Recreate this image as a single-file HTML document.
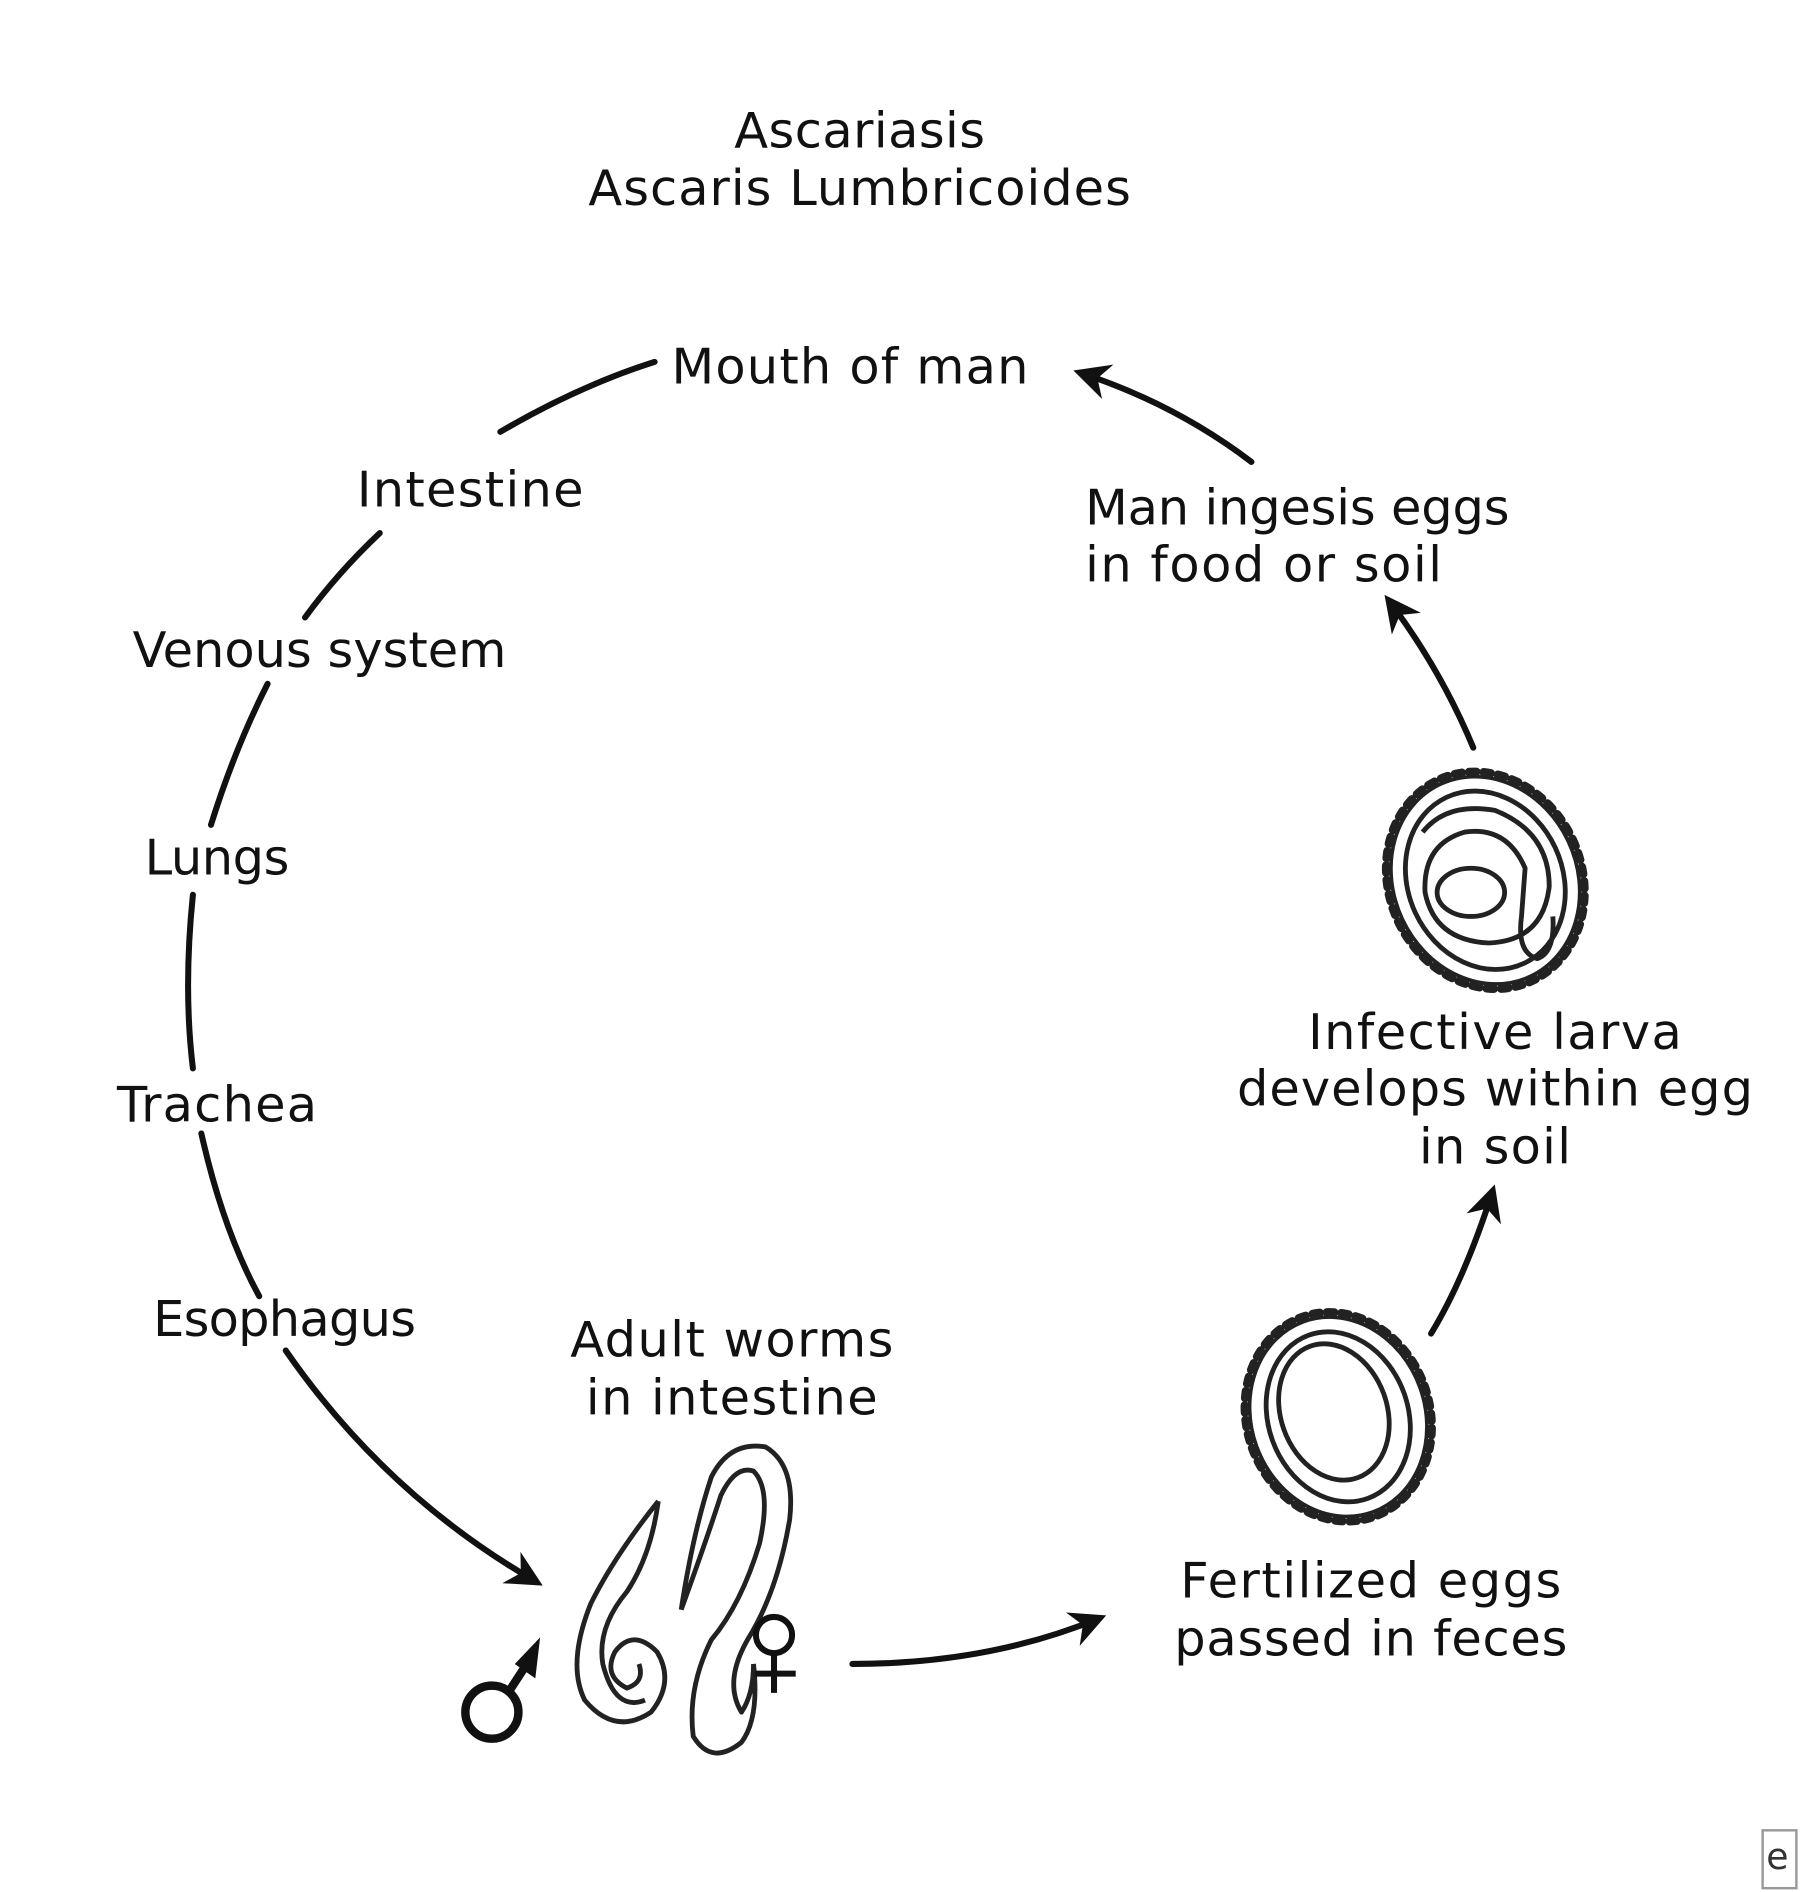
<!DOCTYPE html>
<html><head><meta charset="utf-8"><style>
html,body{margin:0;padding:0;background:#fff;}
svg{display:block}
text{font-family:"DejaVu Sans","Liberation Sans",sans-serif;font-size:41px;fill:#111}
</style></head><body>
<svg width="1800" height="1892" viewBox="0 0 1493 1569" xmlns="http://www.w3.org/2000/svg">
<defs>
<marker id="ah" viewBox="0 0 10 10" refX="8" refY="5" markerWidth="6" markerHeight="6" orient="auto" markerUnits="strokeWidth">
<path d="M0,0 L10,5 L0,10 L3,5 z" fill="#111"/></marker>
</defs>
<g text-anchor="middle">
<text x="713" y="122" textLength="208">Ascariasis</text>
<text x="713" y="170" textLength="450">Ascaris Lumbricoides</text>
<text x="607" y="1125" textLength="268">Adult worms</text>
<text x="607" y="1173" textLength="242">in intestine</text>
<text x="1240" y="870" textLength="310">Infective larva</text>
<text x="1240" y="917" textLength="428">develops within egg</text>
<text x="1240" y="965" textLength="126">in soil</text>
<text x="1137" y="1325" textLength="316">Fertilized eggs</text>
<text x="1137" y="1373" textLength="326">passed in feces</text>
</g>
<text x="557" y="318" textLength="296">Mouth of man</text>
<text x="296" y="420" textLength="188">Intestine</text>
<text x="110" y="553" textLength="310">Venous system</text>
<text x="120" y="725" textLength="120">Lungs</text>
<text x="97" y="930" textLength="166">Trachea</text>
<text x="127" y="1108" textLength="218">Esophagus</text>
<text x="900" y="435" textLength="352">Man ingesis eggs</text>
<text x="900" y="482" textLength="296">in food or soil</text>

<g fill="none" stroke="#111" stroke-width="5" stroke-linecap="round">
<path d="M415,358 Q480,320 543,300"/>
<path d="M253,512 Q280,475 315,442"/>
<path d="M175,684 Q195,620 222,567"/>
<path d="M160,742 Q152,820 160,886"/>
<path d="M167,940 Q185,1020 215,1075"/>
<path d="M237,1120 Q320,1240 445,1312" marker-end="url(#ah)"/>
<path d="M707,1380 Q820,1380 912,1342" marker-end="url(#ah)"/>
<path d="M1187,1106 Q1215,1060 1238,988" marker-end="url(#ah)"/>
<path d="M1222,620 Q1195,555 1152,498" marker-end="url(#ah)"/>
<path d="M1038,383 Q975,335 896,309" marker-end="url(#ah)"/>
</g>

<g fill="none" stroke="#222" transform="rotate(-20 1110 1175)">
<ellipse cx="1110" cy="1175" rx="76" ry="88" stroke-width="7" stroke-dasharray="6 6" stroke-linecap="round"/>
<ellipse cx="1110" cy="1175" rx="72" ry="84" stroke-width="3"/>
<ellipse cx="1110" cy="1175" rx="58" ry="72" stroke-width="4"/>
<ellipse cx="1108" cy="1170" rx="44" ry="58" stroke-width="4"/>
</g>
<g fill="none" stroke="#222" transform="rotate(-25 1232 730)">
<ellipse cx="1232" cy="730" rx="80" ry="92" stroke-width="7" stroke-dasharray="6 6" stroke-linecap="round"/>
<ellipse cx="1232" cy="730" rx="76" ry="88" stroke-width="3"/>
<ellipse cx="1232" cy="730" rx="64" ry="76" stroke-width="4"/>
</g>
<g fill="none" stroke="#222" stroke-width="4">
<path d="M1180,690 Q1200,665 1240,672 Q1285,690 1285,735 Q1280,780 1235,782 Q1190,780 1182,740 Q1180,700 1215,690 Q1250,685 1265,720 L1262,760 Q1258,790 1275,795 Q1290,790 1288,760"/>
<ellipse cx="1220" cy="740" rx="28" ry="20"/>
</g>

<g fill="none" stroke="#222" stroke-width="4" stroke-linejoin="round">
<path d="M546,1245 Q510,1290 490,1330 Q470,1380 485,1410 Q510,1440 540,1420 Q560,1395 545,1370 Q525,1350 510,1370 Q500,1390 520,1400 Q535,1395 530,1380"/>
<path d="M546,1245 Q540,1290 520,1320 Q495,1350 500,1380 Q510,1420 535,1410"/>
<path d="M565,1335 Q575,1270 590,1225 Q605,1195 635,1200 Q660,1215 655,1260 Q645,1320 620,1360 Q600,1395 615,1420 Q625,1405 625,1380 M565,1335 Q585,1280 598,1240 Q610,1215 625,1220 Q640,1235 630,1280 Q615,1330 590,1360 Q570,1400 575,1440 Q590,1465 615,1445 Q630,1425 625,1380"/>
</g>
<g fill="none" stroke="#111" stroke-width="7">
<circle cx="408" cy="1420" r="22"/>
<line x1="422" y1="1403" x2="437" y2="1380"/>
</g>
<path d="M448,1358 L444,1392 L427,1380 z" fill="#111"/>
<g fill="none" stroke="#111" stroke-width="5">
<circle cx="642" cy="1356" r="15"/>
<line x1="642" y1="1371" x2="642" y2="1404"/>
<line x1="626" y1="1388" x2="660" y2="1388"/>
</g>
<rect x="1462" y="1518" width="28" height="48" fill="none" stroke="#999" stroke-width="2"/>
<text x="1465" y="1550" style="font-size:30px;fill:#333">e</text>
</svg>
</body></html>
